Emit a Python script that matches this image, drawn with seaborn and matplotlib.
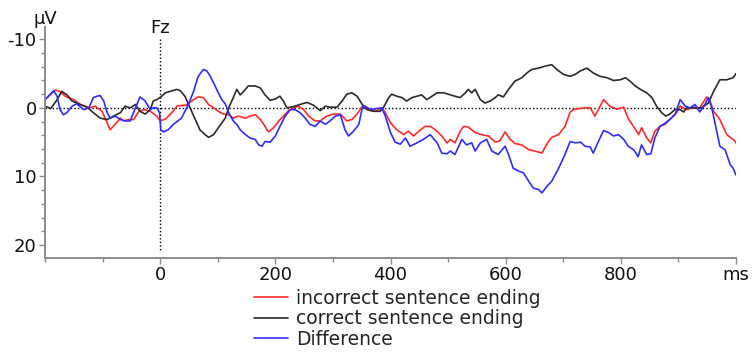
import numpy as np
import pandas as pd
import matplotlib
matplotlib.use("Agg")
import matplotlib.pyplot as plt
from matplotlib.ticker import MultipleLocator, FixedLocator, FixedFormatter
import seaborn as sns

# Grand-average ERP at electrode Fz (negative up), time in ms, amplitude in µV
incorrect_t = [-200, -182, -174, -165, -150, -139, -122, -113, -101, -92, -87, -78, -69, -63, -55, -46,
               -37, -28, -17, -6, 0, 10, 20, 30, 45, 58, 66, 75, 84, 93, 101, 110, 119, 127, 136, 148,
               156, 165, 174, 182, 188, 197, 206, 214, 223, 232, 240, 249, 258, 269, 278, 289, 301, 313,
               324, 333, 342, 351, 365, 376, 385, 391, 400, 411, 423, 431, 440, 452, 460, 469, 478, 489,
               498, 504, 512, 521, 527, 535, 547, 558, 570, 582, 590, 599, 608, 616, 628, 640, 651, 663,
               672, 680, 692, 703, 712, 718, 727, 738, 747, 755, 770, 781, 793, 805, 813, 822, 831, 836,
               845, 852, 859, 868, 877, 885, 897, 903, 914, 929, 937, 949, 955, 961, 972, 984, 995, 1000]
incorrect_v = [-1.2, -2.6, -2.4, -1.7, -1.2, -0.5, 0.0, -0.25, 0.5, 2.2, 3.2, 2.4, 1.5, 1.9, 1.7, 1.7,
               0.5, 0.25, 0.5, 1.2, 1.9, 1.6, 0.7, -0.3, -0.4, -1.2, -1.6, -1.5, -0.5, 0.0, 0.5, 0.9, 1.0,
               1.5, 1.2, 1.5, 1.2, 1.0, 1.7, 2.7, 3.5, 2.9, 1.9, 1.2, 0.4, 0.0, -0.25, 0.25, 1.2, 1.9,
               1.9, 1.2, 0.9, 0.9, 1.9, 1.7, 0.9, -0.25, 0.4, 0.4, 0.0, 0.7, 2.2, 3.2, 3.9, 3.4, 4.1, 3.2,
               2.7, 2.7, 3.2, 4.1, 5.1, 4.6, 5.1, 3.4, 2.7, 2.8, 3.6, 3.9, 4.1, 5.0, 4.8, 3.5, 4.6, 5.2,
               5.4, 6.1, 6.3, 6.6, 5.2, 4.3, 3.9, 2.7, 0.6, 0.25, 0.1, 0.0, 0.0, 1.2, -1.2, -0.25, 0.2,
               -0.1, 1.6, 2.7, 3.9, 2.9, 4.4, 5.1, 3.4, 2.7, 2.4, 1.7, 0.7, -0.25, 0.25, -0.1, 0.0, -1.6,
               -1.0, 0.5, 1.7, 3.9, 4.6, 5.1]

correct_t = [-200, -190, -179, -171, -162, -153, -139, -127, -116, -104, -92, -81, -69, -61, -52, -43,
             -35, -26, -17, -12, -6, 0, 9, 17, 29, 35, 43, 52, 61, 69, 78, 84, 93, 101, 113, 119, 127,
             133, 139, 145, 153, 165, 174, 182, 191, 200, 208, 214, 220, 232, 243, 255, 266, 278, 287,
             295, 307, 316, 324, 333, 342, 351, 359, 371, 382, 388, 397, 402, 411, 420, 428, 437, 446,
             454, 463, 472, 481, 492, 504, 512, 521, 530, 535, 541, 547, 556, 564, 573, 582, 587, 596,
             605, 616, 628, 637, 645, 657, 669, 680, 689, 700, 712, 721, 730, 741, 752, 764, 776, 787,
             799, 808, 816, 825, 834, 845, 854, 862, 871, 878, 885, 894, 903, 909, 914, 929, 940, 952,
             961, 972, 984, 995, 1000]
correct_v = [-0.25, 0.1, -1.2, -2.4, -1.9, -1.0, -0.5, -0.1, 0.7, 1.5, 1.7, 1.2, 0.7, -0.25, 0.0, -0.5,
             0.5, 0.9, 0.25, -1.0, -1.2, -1.5, -2.2, -2.4, -2.7, -2.5, -1.7, 0.0, 1.7, 3.2, 3.9, 4.3,
             3.9, 2.9, 1.5, 0.0, -1.5, -2.7, -1.9, -2.4, -3.2, -3.2, -2.9, -1.9, -1.1, -1.3, -1.7, -1.0,
             0.0, -0.2, -0.5, -0.8, -0.4, 0.4, -0.25, -0.1, -0.1, -1.0, -2.0, -2.2, -1.7, -0.5, 0.25,
             0.5, 0.5, -0.1, -1.5, -2.0, -1.7, -1.5, -1.0, -1.5, -1.7, -1.9, -1.2, -1.7, -2.2, -2.2,
             -1.9, -1.7, -1.5, -2.2, -2.7, -2.2, -2.7, -1.2, -0.7, -1.0, -1.5, -1.9, -1.6, -2.7, -3.9,
             -4.4, -5.1, -5.6, -5.8, -6.1, -6.3, -5.6, -4.9, -4.6, -4.9, -5.4, -5.8, -5.1, -4.6, -4.4,
             -4.0, -4.1, -4.4, -3.9, -3.2, -2.7, -2.2, -1.5, -0.25, 0.7, 1.2, 0.9, 0.25, 0.25, 0.6,
             0.0, 0.0, 0.0, -0.7, -2.4, -4.1, -4.1, -4.4, -5.0]

difference_t = [-200, -185, -179, -174, -168, -162, -153, -145, -133, -124, -116, -110, -104, -98, -92,
                -87, -78, -69, -61, -52, -43, -35, -26, -17, -12, -6, -1, 1, 6, 14, 23, 37, 49, 58, 66,
                75, 81, 87, 93, 101, 107, 113, 119, 127, 133, 139, 148, 156, 165, 171, 177, 182, 191,
                200, 208, 217, 226, 234, 243, 252, 260, 269, 278, 287, 295, 304, 313, 321, 327, 336, 345,
                351, 356, 365, 376, 385, 391, 400, 408, 417, 426, 434, 446, 457, 469, 481, 489, 498, 504,
                512, 524, 532, 541, 547, 556, 567, 576, 587, 599, 605, 613, 622, 631, 640, 648, 657, 663,
                672, 680, 692, 703, 712, 721, 730, 738, 747, 752, 761, 770, 779, 787, 796, 805, 813, 822,
                830, 836, 845, 852, 859, 868, 877, 885, 894, 903, 912, 920, 929, 937, 946, 952, 958, 964,
                972, 981, 990, 995, 1000]
difference_v = [-1.2, -2.5, -1.7, 0.25, 1.0, 0.7, -0.25, -0.6, 0.25, 0.0, -1.5, -1.7, -1.8, -1.0, 0.7,
                1.5, 1.2, 1.7, 1.9, 1.9, 0.0, -1.6, -1.0, 0.25, 0.0, 0.0, 0.7, 3.2, 3.5, 3.2, 2.4, 1.5,
                -0.5, -2.4, -4.6, -5.6, -5.4, -4.6, -3.6, -2.2, -1.2, -0.6, 0.7, 1.9, 2.4, 3.2, 3.9, 4.4,
                4.6, 5.4, 5.6, 4.9, 5.0, 4.1, 2.7, 1.2, 0.25, 0.25, 0.7, 1.5, 2.4, 2.7, 1.9, 2.4, 1.9,
                1.2, 1.0, 3.2, 4.1, 3.4, 2.4, 0.0, -0.25, 0.25, 0.1, 0.0, 1.2, 3.6, 5.0, 5.3, 4.4, 5.6,
                5.1, 4.6, 3.9, 5.1, 6.6, 6.7, 6.3, 6.8, 4.6, 5.4, 5.1, 6.3, 5.1, 4.6, 6.3, 6.8, 5.6, 6.8,
                8.8, 9.2, 9.5, 10.7, 11.7, 11.9, 12.4, 11.4, 10.7, 8.8, 6.8, 4.9, 5.1, 5.0, 5.6, 5.7, 6.6,
                4.9, 3.3, 3.6, 4.1, 3.9, 4.6, 5.6, 6.1, 7.1, 5.4, 6.8, 6.7, 4.4, 2.7, 2.2, 1.7, 1.0,
                -1.2, -0.25, 0.0, -0.5, 0.6, -0.5, -1.5, 0.0, 2.4, 5.6, 6.1, 8.3, 8.8, 9.8]

conditions = ["incorrect sentence ending", "correct sentence ending", "Difference"]
condition_colors = ["#ff2a2a", "#2b2b2b", "#2e2eff"]
x_tick_values = [0, 200, 400, 600, 800, 1000]
x_tick_labels = ["0", "200", "400", "600", "800", "ms"]
y_tick_values = [-10, 0, 10, 20]
y_tick_labels = ["-10", "0", "10", "20"]

frames = []
for name, t, v in zip(conditions,
                      [incorrect_t, correct_t, difference_t],
                      [incorrect_v, correct_v, difference_v]):
    frames.append(pd.DataFrame({"time": t, "amplitude": v, "condition": name}))
erp = pd.concat(frames, ignore_index=True)

sns.set_style("white")
plt.rcParams["font.family"] = ["DejaVu Sans"]

fig = plt.figure(figsize=(7.52, 3.54), dpi=100)
ax = fig.add_axes([45 / 752, 1 - 258 / 354, (736 - 45) / 752, (258 - 27) / 354])

sns.lineplot(data=erp, x="time", y="amplitude", hue="condition", hue_order=conditions,
             palette=condition_colors, linewidth=1.2, estimator=None, sort=True, ax=ax)

ax.set_xlim(-200, 1000)
ax.set_ylim(21.9, -11.8)

# zero reference lines
ax.plot([-200, 1000], [0, 0], color="black", lw=1.0, ls=(0, (1, 1.6)), zorder=1)
ax.plot([0, 0], [-10.1, 21.0], color="black", lw=1.0, ls=(0, (1, 1.6)), zorder=1)
ax.text(0, -10.3, "Fz", ha="center", va="bottom", fontsize=13, color="#111111")
ax.text(-200, -11.7, "µV", ha="center", va="bottom", fontsize=13, color="#111111")

for side in ["top", "right"]:
    ax.spines[side].set_visible(False)
for side in ["left", "bottom"]:
    ax.spines[side].set_color("#8c8c8c")
    ax.spines[side].set_linewidth(1.4)

ax.xaxis.set_major_locator(FixedLocator(x_tick_values))
ax.xaxis.set_major_formatter(FixedFormatter(x_tick_labels))
ax.xaxis.set_minor_locator(MultipleLocator(100))
ax.yaxis.set_major_locator(FixedLocator(y_tick_values))
ax.yaxis.set_major_formatter(FixedFormatter(y_tick_labels))
ax.yaxis.set_minor_locator(MultipleLocator(2))
ax.tick_params(axis="both", which="major", labelsize=13, labelcolor="#111111",
               color="#8c8c8c", width=1.0, length=4, direction="out", pad=2)
ax.tick_params(axis="both", which="minor", color="#8c8c8c", width=1.0, length=3,
               direction="out")
ax.tick_params(axis="x", which="both", bottom=True)
ax.tick_params(axis="y", which="both", left=True)
ax.set_xlabel("")
ax.set_ylabel("")

ax.legend(loc="upper left", bbox_to_anchor=(254 / 752, 1 - 289 / 354),
          bbox_transform=fig.transFigure, frameon=False, fontsize=13.5,
          handlelength=1.8, handletextpad=0.45, labelspacing=0.08, borderpad=0,
          borderaxespad=0)

fig.savefig("out.png", dpi=100)
